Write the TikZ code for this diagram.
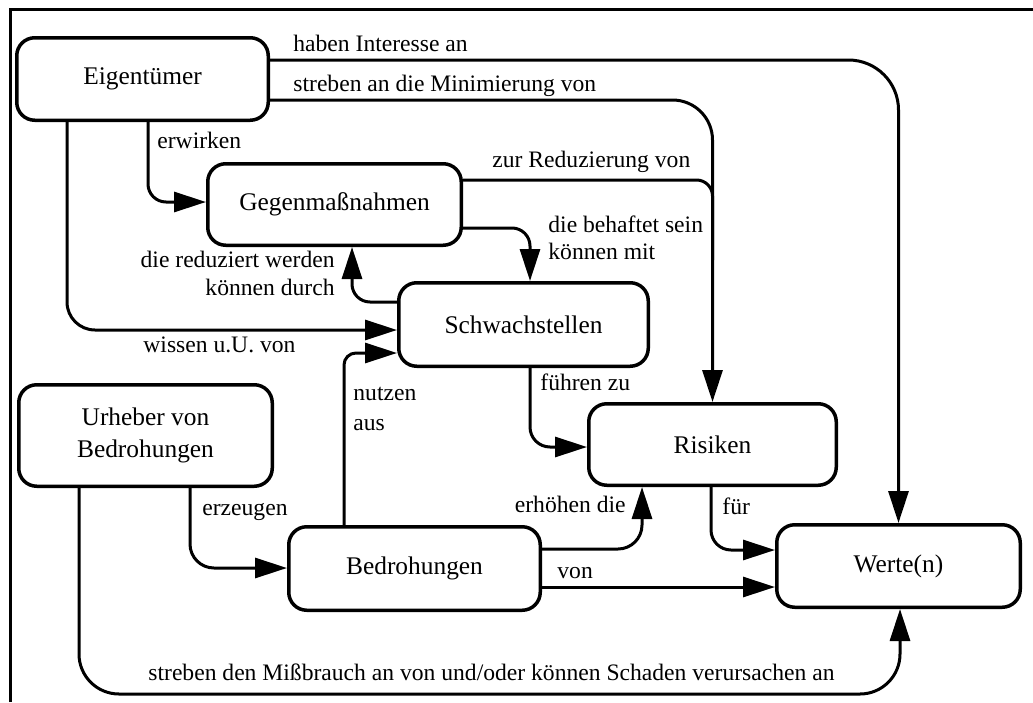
\documentclass[tikz,border=0pt]{standalone}
\usepackage{fontspec}
\setmainfont{Liberation Serif}
\usetikzlibrary{arrows.meta,calc}

\begin{document}
\begin{tikzpicture}[x=0.5pt,y=-0.5pt,
  box/.style={draw, line width=1.75pt, rounded corners=9pt, inner sep=0pt,
    align=center, font=\fontsize{12.7}{16}\selectfont},
  conn/.style={line width=1.5pt, -{Triangle[length=16pt,width=10pt]}},
  plain/.style={line width=1.5pt},
  lbl/.style={inner sep=0pt, font=\fontsize{11.8}{14}\selectfont},
]
\useasboundingbox (0,0) rectangle (1033,702);

% frame
\draw[line width=1.5pt] (10.5,702) -- (10.5,9.5) -- (1033,9.5);

% entities
\node[box, minimum width=125.75pt, minimum height=41.25pt] (eig)   at (142.5,79)  {Eigentümer};
\node[box, minimum width=126.75pt, minimum height=40.75pt] (gegen) at (334.5,204.5) {Gegenmaßnahmen};
\node[box, minimum width=124.75pt, minimum height=41.75pt] (schw)  at (523.5,324.5) {Schwachstellen};
\node[box, minimum width=126.75pt, minimum height=50.75pt] (urh)   at (145.5,435.5) {Urheber von\\Bedrohungen};
\node[box, minimum width=125.75pt, minimum height=41.75pt] (bedr)  at (414.5,568.5) {Bedrohungen};
\node[box, minimum width=123.75pt, minimum height=40.75pt] (ris)   at (712.5,444.5) {Risiken};
\node[box, minimum width=121.75pt, minimum height=41.25pt] (wert)  at (898.5,566)   {Werte(n)};

% relations
\draw[conn, rounded corners=25pt] (eig.east |- 0,60) -| (wert.north);
\draw[conn, rounded corners=20pt] (eig.east |- 0,100) -| (ris.north);
\coordinate (rmerge) at (712.5,260);
\draw[plain, rounded corners=8pt] (gegen.east |- 0,180) -| (rmerge);
\draw[conn, rounded corners=9pt] (gegen.east |- 0,228) -| (schw.north -| 530,0);
\draw[conn, rounded corners=9pt] (schw.west |- 0,302) -| (gegen.south -| 352,0);
\draw[conn, rounded corners=14pt] (eig.south -| 67,0) |- (schw.west |- 0,330);
\draw[conn, rounded corners=9pt] (eig.south -| 148,0) |- (gegen.west |- 0,202);
\draw[conn, rounded corners=6pt] (bedr.north -| 344,0) |- (schw.west |- 0,353);
\draw[conn, rounded corners=10pt] (schw.south -| 530,0) |- (ris.west |- 0,447);
\draw[conn, rounded corners=12pt] (urh.south -| 190,0) |- (bedr.west |- 0,568);
\coordinate (mcorner) at (900,694);
\draw[conn] (urh.south -| 79,0) [rounded corners=20pt] |- (mcorner) [rounded corners=9pt] -- (wert.south -| 900,0);
\draw[conn, rounded corners=12pt] (bedr.east |- 0,549) -| (ris.south -| 642,0);
\draw[conn] (bedr.east |- 0,587) -- (wert.west |- 0,587);
\draw[conn, rounded corners=10pt] (ris.south -| 711,0) |- (wert.west |- 0,550);

% labels
\node[lbl, anchor=base west] (l1)  at (293,51)  {haben Interesse an};
\node[lbl, anchor=base west] (l2)  at (293,91)  {streben an die Minimierung von};
\node[lbl, anchor=base west] (l3)  at (157,148) {erwirken};
\node[lbl, anchor=base west] (l4)  at (492,167) {zur Reduzierung von};
\node[lbl, anchor=base west] (l5a) at (548,232) {die behaftet sein};
\node[lbl, anchor=base west] (l5b) at (548,259) {können mit};
\node[lbl, anchor=base east] (l6a) at (335,267) {die reduziert werden};
\node[lbl, anchor=base east] (l6b) at (335,295) {können durch};
\node[lbl, anchor=base west] (l7)  at (143,352) {wissen u.U. von};
\node[lbl, anchor=base west] (l8a) at (353,400) {nutzen};
\node[lbl, anchor=base west] (l8b) at (353,430) {aus};
\node[lbl, anchor=base west] (l9)  at (540,390) {führen zu};
\node[lbl, anchor=base west] (l10) at (202,515) {erzeugen};
\node[lbl, anchor=base east] (l11) at (626,512) {erhöhen die};
\node[lbl, anchor=base west] (l12) at (722,514) {für};
\node[lbl, anchor=base west] (l13) at (557,578) {von};
\node[lbl, anchor=base west] (l14) at (148,680) {streben den Mißbrauch an von und/oder können Schaden verursachen an};
\end{tikzpicture}
\end{document}
